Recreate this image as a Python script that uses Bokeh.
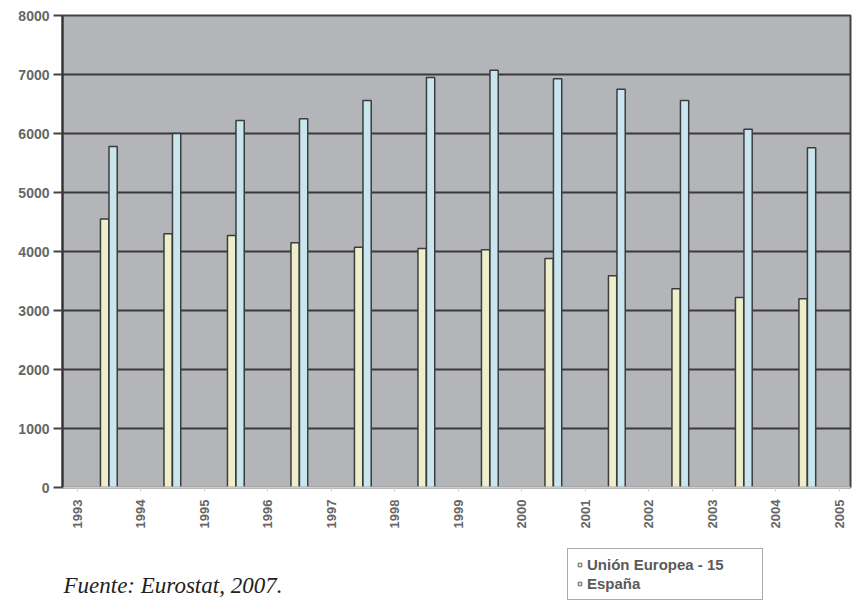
from bokeh.plotting import figure
from bokeh.layouts import column
from bokeh.models import (ColumnDataSource, Range1d, FixedTicker, Legend, LegendItem,
                          Label, NumeralTickFormatter)
from bokeh.embed import file_html
from bokeh.resources import INLINE

# Years shown on the horizontal axis (one label at each group boundary)
years = ["1993", "1994", "1995", "1996", "1997", "1998", "1999",
         "2000", "2001", "2002", "2003", "2004", "2005"]

# Values per group
ue15 = [4550, 4300, 4270, 4150, 4070, 4050, 4030, 3880, 3590, 3370, 3220, 3200]
espana = [5780, 6000, 6220, 6250, 6560, 6950, 7070, 6930, 6750, 6560, 6070, 5760]

series_names = ["Unión Europea - 15", "España"]
fill_ue = "#eeeecb"
fill_es = "#c9e6ee"
edge = "#3c3c3c"

groups = list(range(len(ue15)))
off = 0.067
bw = 0.13

src = ColumnDataSource(dict(
    x_ue=[g - off for g in groups],
    x_es=[g + off for g in groups],
    ue=ue15,
    es=espana,
))

# ---- main chart -----------------------------------------------------------
p = figure(width=852, height=540, output_backend="svg", toolbar_location=None,
           x_range=Range1d(-0.73, 11.68), y_range=Range1d(0, 8000),
           min_border_left=62, min_border_right=2, min_border_top=15,
           min_border_bottom=53)

p.background_fill_color = "#b4b5b8"
p.border_fill_color = "white"
p.outline_line_color = "#444444"
p.outline_line_width = 2

p.vbar(x="x_ue", top="ue", width=bw, source=src,
       fill_color=fill_ue, line_color=edge, line_width=1.5)
p.vbar(x="x_es", top="es", width=bw, source=src,
       fill_color=fill_es, line_color=edge, line_width=1.5)

# Y axis
p.yaxis.ticker = FixedTicker(ticks=list(range(0, 8001, 1000)))
p.yaxis.formatter = NumeralTickFormatter(format="0")
p.yaxis.major_tick_out = 9
p.yaxis.major_tick_in = 0
p.yaxis.minor_tick_out = 0
p.yaxis.minor_tick_in = 0
p.yaxis.axis_line_color = "#333333"
p.yaxis.axis_line_width = 2
p.yaxis.major_tick_line_color = "#444444"
p.yaxis.major_tick_line_width = 2
p.yaxis.major_label_text_font = "Liberation Sans"
p.yaxis.major_label_text_font_style = "bold"
p.yaxis.major_label_text_font_size = "14px"
p.yaxis.major_label_text_color = "#666666"
p.yaxis.major_label_standoff = 4

# X axis: year labels at the boundaries between groups
xt = [g - 0.5 for g in range(len(years))]
p.xaxis.ticker = FixedTicker(ticks=xt)
p.xaxis.major_label_overrides = {t: y for t, y in zip(xt, years)}
p.xaxis.major_label_orientation = 1.5708
p.xaxis.major_label_text_font = "Liberation Sans"
p.xaxis.major_label_text_font_style = "bold"
p.xaxis.major_label_text_font_size = "13px"
p.xaxis.major_label_text_color = "#666666"
p.xaxis.major_tick_out = 4
p.xaxis.major_tick_in = 0
p.xaxis.major_tick_line_color = "#cccccc"
p.xaxis.axis_line_color = "#cfcfcf"
p.xaxis.axis_line_width = 2
p.xaxis.major_label_standoff = 8

p.xgrid.grid_line_color = None
p.ygrid.ticker = FixedTicker(ticks=list(range(0, 8001, 1000)))
p.ygrid.grid_line_color = "#3a3a3a"
p.ygrid.grid_line_width = 2

# ---- footer strip: source note and legend ---------------------------------
# (its frame is aligned with the chart's frame, so screen x = 0 is the y axis)
f = figure(width=852, height=62, output_backend="svg", toolbar_location=None,
           x_range=Range1d(0, 1), y_range=Range1d(0, 1),
           min_border_left=62, min_border_right=2, min_border_top=0,
           min_border_bottom=0)
f.axis.visible = False
f.grid.visible = False
f.outline_line_color = None
f.background_fill_color = "white"

key = ColumnDataSource(dict(x=[float("nan")], y=[float("nan")]))
k1 = f.scatter(x="x", y="y", source=key, marker="square", size=8,
               fill_color=fill_ue, line_color="#666666", line_width=1)
k2 = f.scatter(x="x", y="y", source=key, marker="square", size=8,
               fill_color=fill_es, line_color="#666666", line_width=1)

legend = Legend(items=[LegendItem(label=series_names[0], renderers=[k1]),
                       LegendItem(label=series_names[1], renderers=[k2])],
                location=(505, 2), orientation="vertical")
legend.label_text_font = "Liberation Sans"
legend.label_text_font_style = "bold"
legend.label_text_font_size = "15px"
legend.label_text_color = "#5a5a5a"
legend.glyph_width = 9
legend.glyph_height = 9
legend.label_height = 15
legend.label_width = 168
legend.spacing = 2
legend.padding = 7
legend.margin = 0
legend.label_standoff = 3
legend.border_line_color = "#555555"
legend.border_line_width = 1.5
legend.background_fill_color = "white"
f.add_layout(legend, "center")

f.add_layout(Label(x=1, y=17, x_units="screen", y_units="screen",
                   text="Fuente: Eurostat, 2007.", text_font="Liberation Serif",
                   text_font_style="italic", text_font_size="23px",
                   text_baseline="alphabetic", text_color="#222222"))

layout = column(p, f, spacing=0)
open("out.html", "w").write(file_html(layout, INLINE))
